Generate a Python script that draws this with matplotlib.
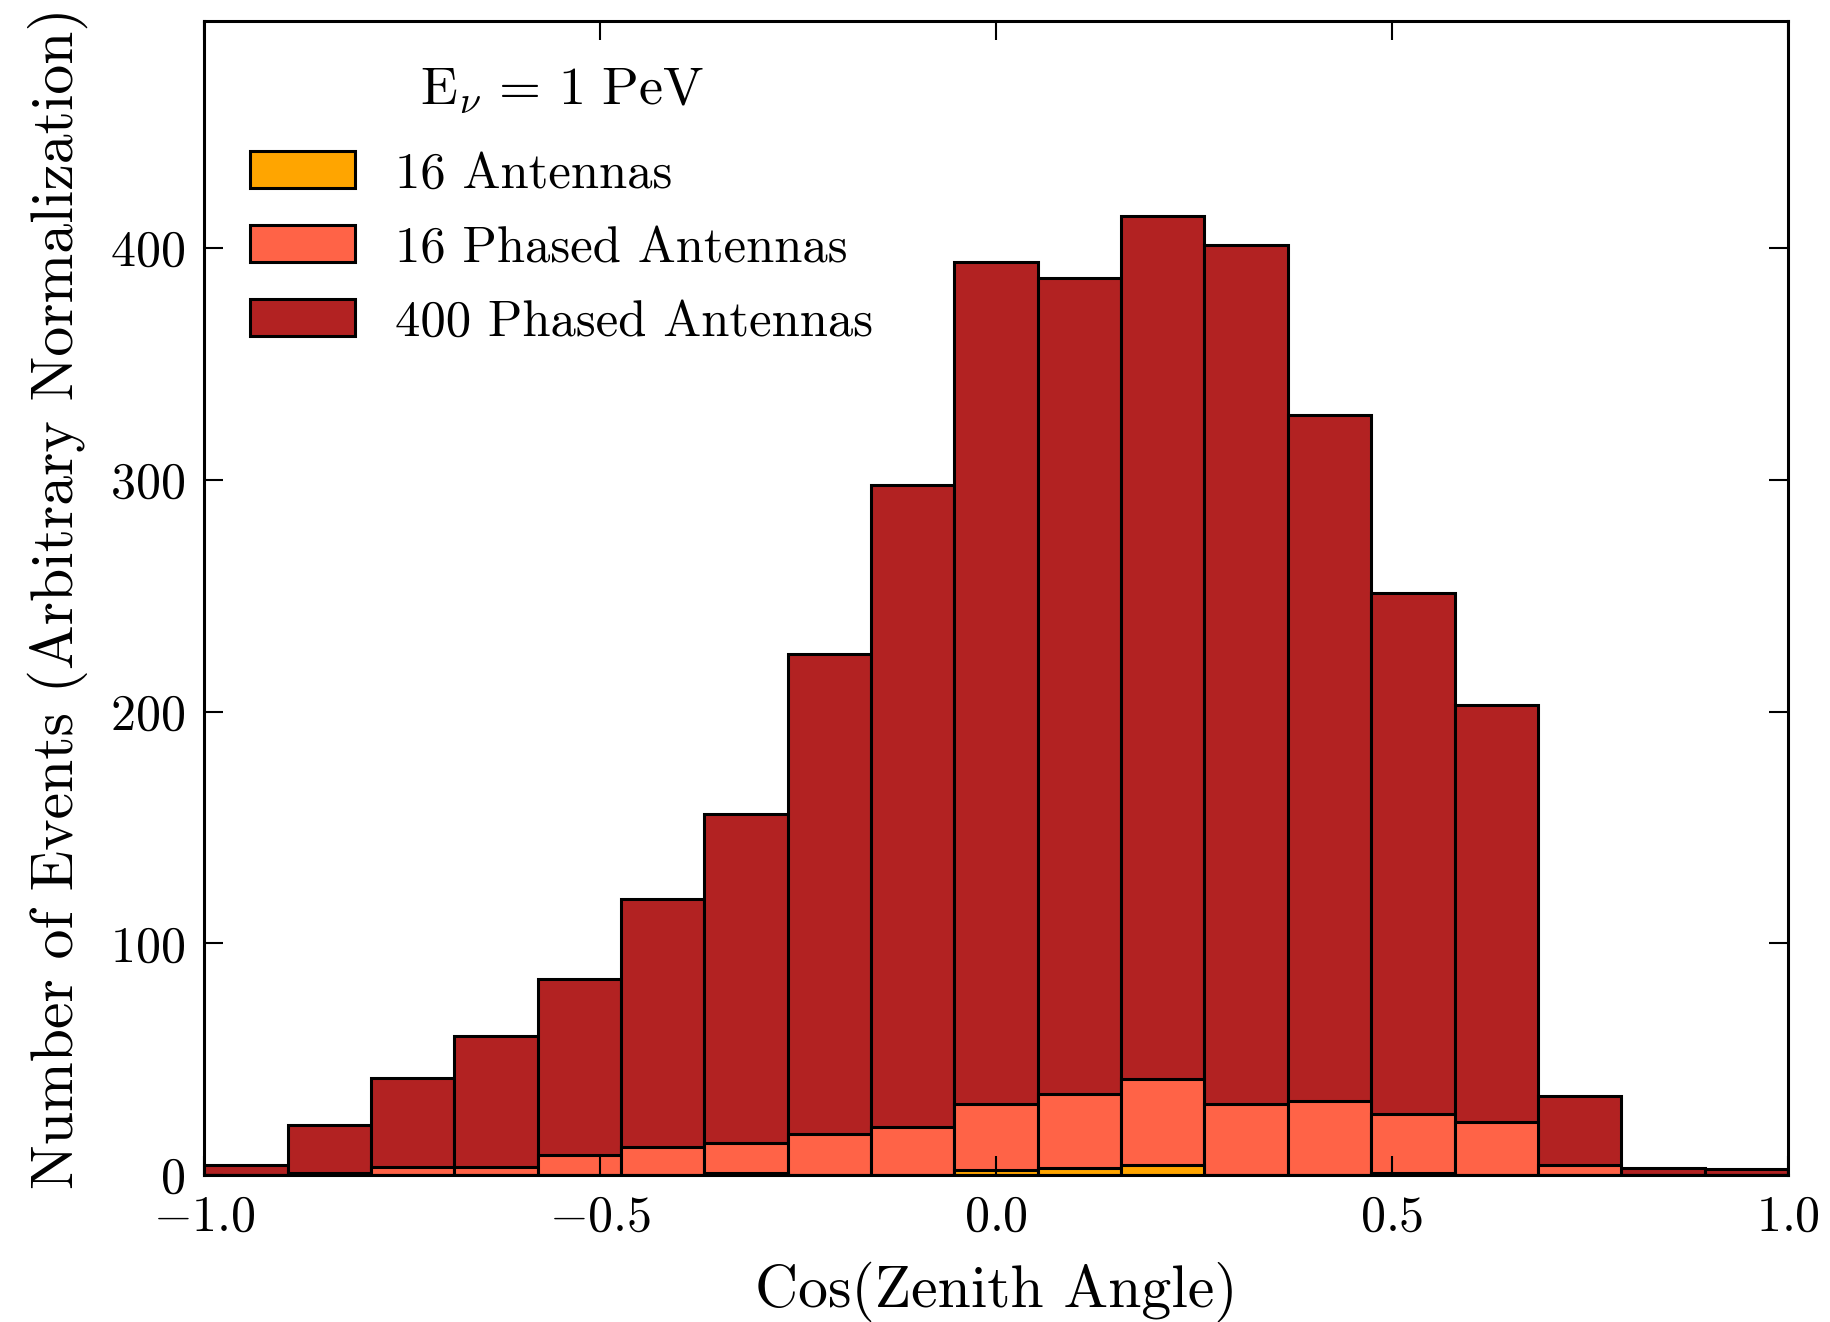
import numpy as np
import matplotlib
matplotlib.use("Agg")
import matplotlib.pyplot as plt

plt.rcParams["font.family"] = "serif"
plt.rcParams["font.serif"] = ["cmr10", "DejaVu Serif"]
plt.rcParams["mathtext.fontset"] = "cm"
plt.rcParams["axes.formatter.use_mathtext"] = True
plt.rcParams["axes.unicode_minus"] = True

# 19 equal bins in cos(zenith) from -1 to 1
bin_edges = np.linspace(-1.0, 1.0, 20)

# Event counts per bin (arbitrary normalization)
counts_400_phased = [4.5, 21.5, 42, 60, 84.5, 119, 156, 225, 298, 394,
                     387, 414, 401.5, 328, 251, 203, 34, 3, 2.5]
counts_16_phased = [0, 1, 3.5, 3.5, 8.5, 12, 14, 17.5, 20.5, 30.5,
                    35, 41.5, 30.5, 32, 26.5, 23, 4.5, 0, 0]
counts_16 = [0, 0, 0, 0, 0, 0, 1, 0, 0, 2,
             3, 4.3, 0, 0, 1, 0, 0, 0, 0]

labels = ["16 Antennas", "16 Phased Antennas", "400 Phased Antennas"]
colors = ["#FFA500", "#FF6347", "#B22222"]

fig = plt.figure(figsize=(18.3, 13.22), dpi=100)
ax = fig.add_axes([0.1116, 0.1112, 0.8654, 0.8728])

left = bin_edges[:-1]
width = np.diff(bin_edges)
series = [counts_400_phased, counts_16_phased, counts_16]
order_labels = [labels[2], labels[1], labels[0]]
order_colors = [colors[2], colors[1], colors[0]]
handles = {}
for vals, lab, col in zip(series, order_labels, order_colors):
    bars = ax.bar(left, vals, width=width, align="edge", color=col,
                  edgecolor="black", linewidth=2.2, label=lab)
    handles[lab] = bars

ax.set_xlim(-1.0, 1.0)
ax.set_ylim(0, 498)
ax.set_xticks([-1.0, -0.5, 0.0, 0.5, 1.0])
ax.set_yticks([0, 100, 200, 300, 400])
ax.tick_params(direction="in", length=14, width=1.5, top=True, right=True,
               labelsize=36, pad=14)
for sp in ax.spines.values():
    sp.set_linewidth(2.2)

ax.set_xlabel("Cos(Zenith Angle)", fontsize=43, labelpad=15)
ax.set_ylabel("Number of Events (Arbitrary Normalization)", fontsize=43,
              labelpad=16)

leg = ax.legend([handles[l] for l in labels], labels, loc="upper left",
                frameon=False, fontsize=36.5,
                title=r"$\mathrm{E}_{\nu}\, =\, 1\ \mathrm{PeV}$",
                title_fontsize=39, handlelength=2.07, handleheight=0.74,
                borderaxespad=0.3, labelspacing=0.55, handletextpad=0.8,
                borderpad=0.6)
# a little more room between the legend title and its entries (points)
leg._legend_box.sep = 25.5

fig.savefig("out.png", dpi=100)
